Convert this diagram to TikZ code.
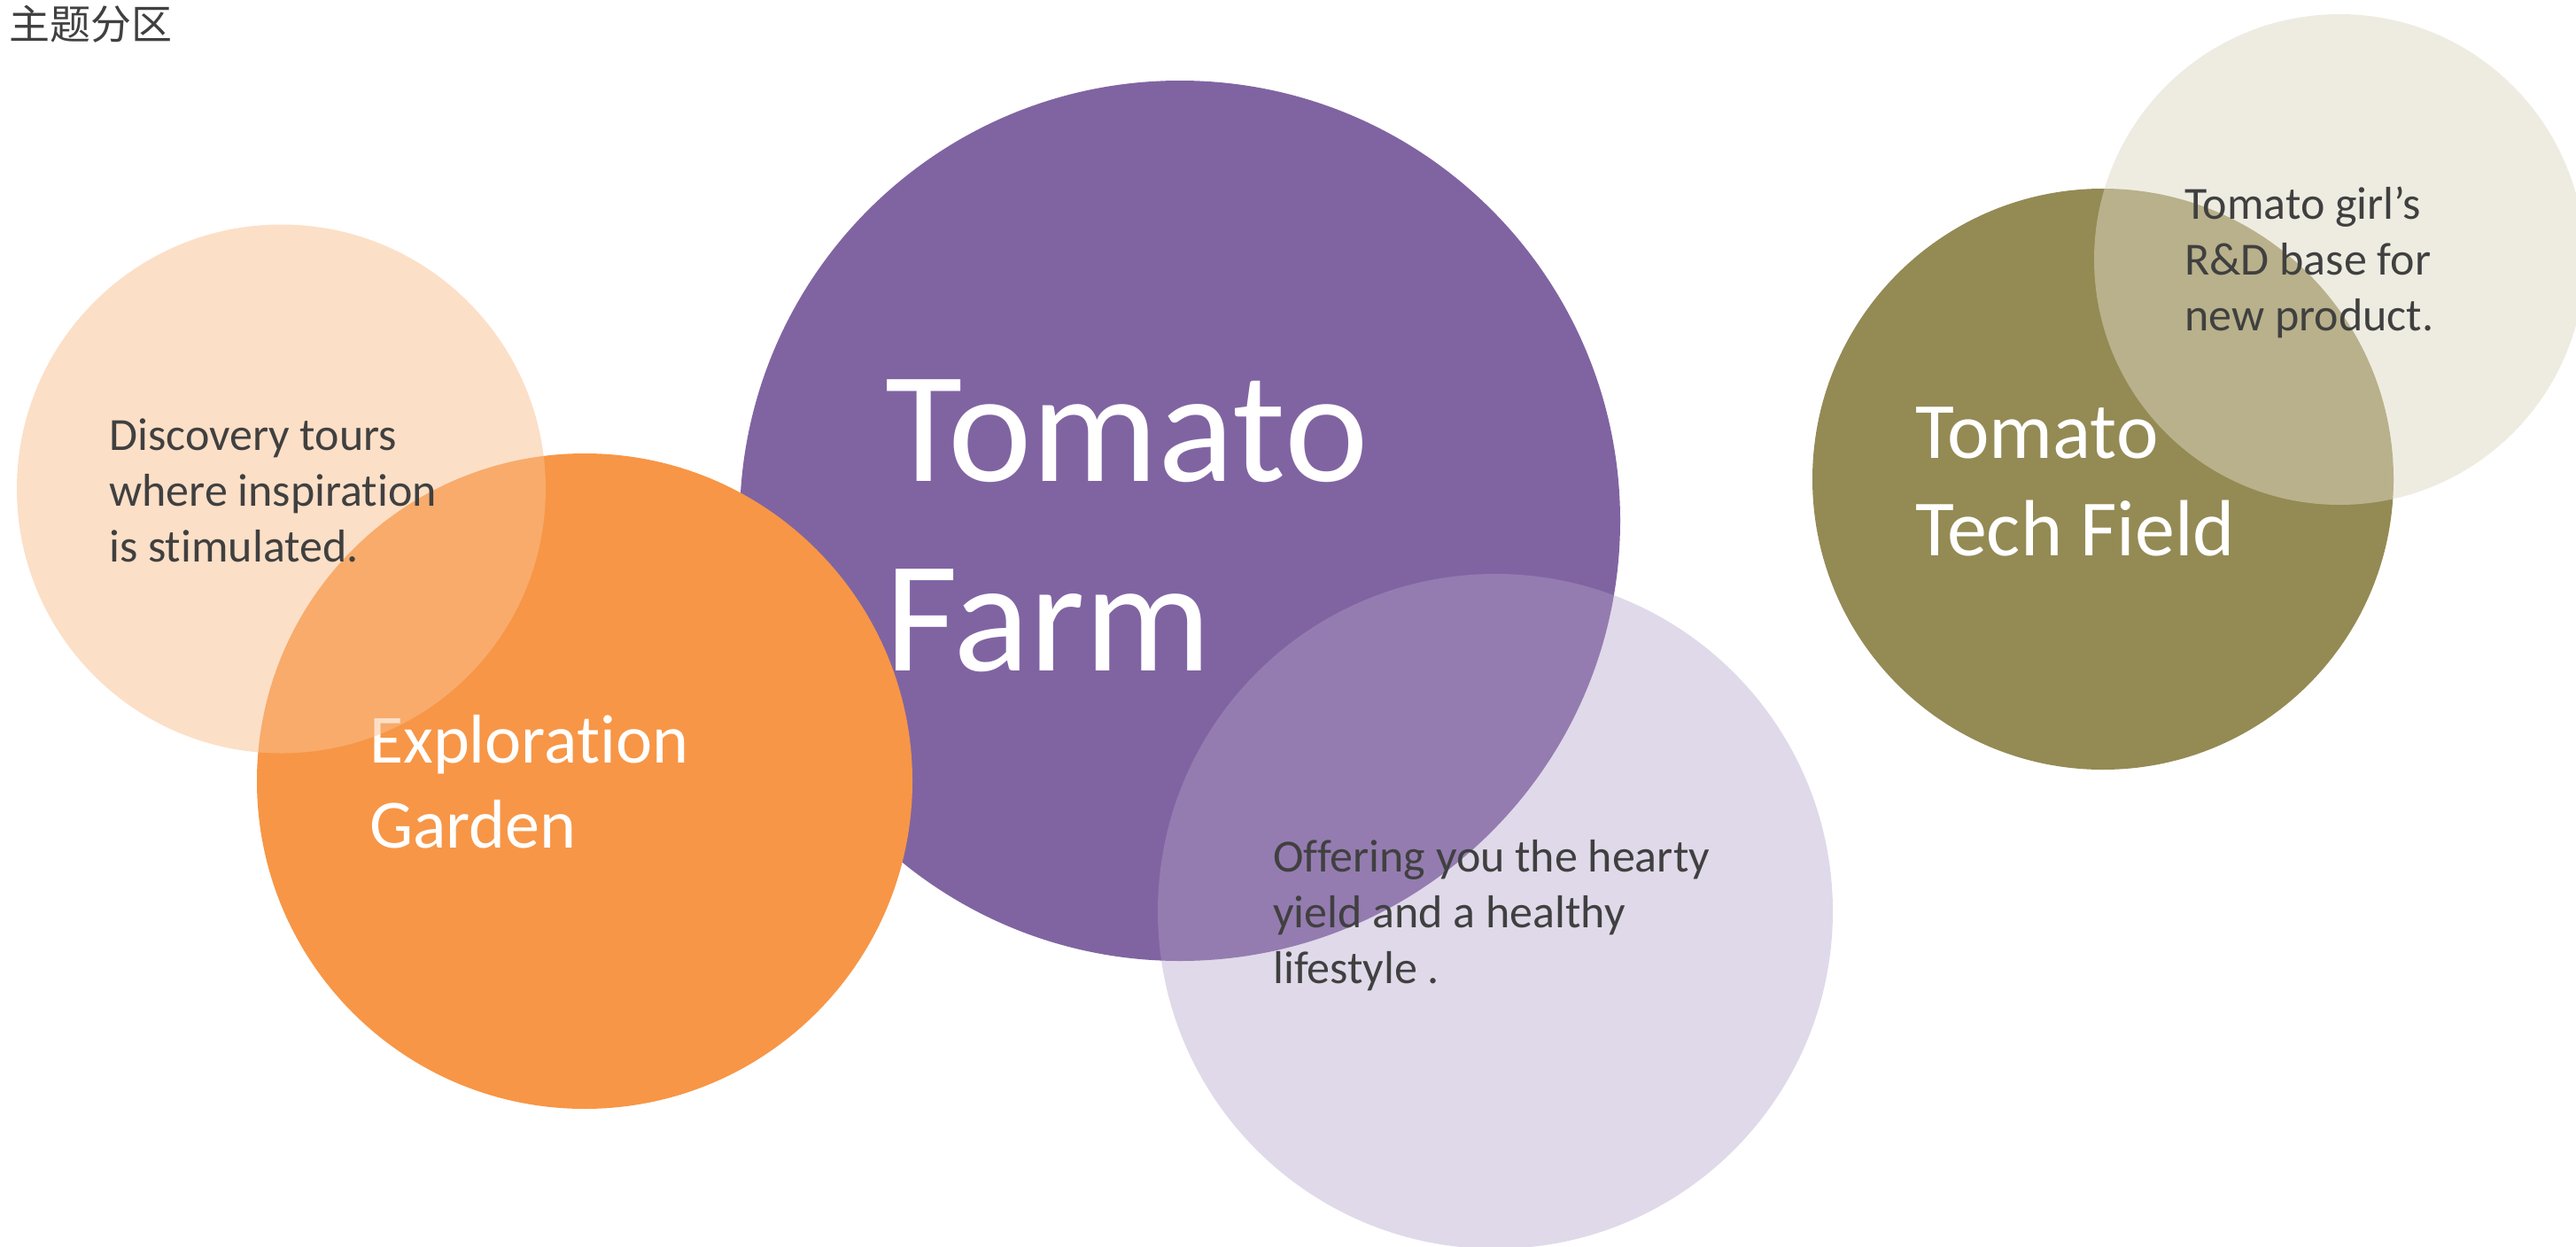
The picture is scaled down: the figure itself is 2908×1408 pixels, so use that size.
\documentclass[tikz,border=0pt]{standalone}
\usepackage{fontspec}
\setmainfont{Carlito}[Ligatures=NoCommon]
\newfontfamily\cjk{Noto Sans CJK SC}
\usepackage{tikz}
\usetikzlibrary{calc}

\definecolor{farmPurple}{HTML}{8064A2}
\definecolor{farmLilac}{HTML}{B2A1C7}
\definecolor{gardenOrange}{HTML}{F79646}
\definecolor{gardenPeach}{HTML}{FAC090}
\definecolor{techOlive}{HTML}{948A54}
\definecolor{techSand}{HTML}{DDD9C3}
\definecolor{textGray}{HTML}{404040}

% labels are placed by the baseline of their last line
\tikzset{
	zoneLabel/.style={anchor=base west, inner sep=0pt, align=left},
	bigTitle/.style={zoneLabel, white, font=\fontsize{179}{214}\selectfont},
	midTitle/.style={zoneLabel, white, font=\fontsize{90}{110}\selectfont},
	smallTitle/.style={zoneLabel, white, font=\fontsize{78}{96}\selectfont},
	noteText/.style={zoneLabel, textGray, font=\fontsize{52}{63}\selectfont}
}

% one round zone: [opacity]{name}{centre}{radius}{fill}
\newcommand{\ZoneDisc}[5][1]{
	\def\lopacity{#1}
	\def\lname{#2}
	\def\lpos{#3}
	\def\lradius{#4}
	\def\lfill{#5}
	\coordinate (\lname) at (\lpos);
	\fill[\lfill, fill opacity=\lopacity] (\lname) circle (\lradius pt);
}

\begin{document}
\begin{tikzpicture}[x=1pt, y={(0pt,-1pt)}]

	\clip (0,0) rectangle (2908,1408);

	\node[zoneLabel, textGray, font=\cjk\fontsize{46}{46}\selectfont] (heading) at (10,44) {主题分区};

	% middle: the farm
	\ZoneDisc{farm}{1332,588}{497}{farmPurple}
	\node[bigTitle] (farmTitle) at (999,757) {Tomato\\Farm};

	% left: the garden, peach disc laid over the orange one
	\ZoneDisc{garden}{660,882}{370}{gardenOrange}
	\node[smallTitle] (gardenTitle) at (417,957) {Exploration\\Garden};
	\ZoneDisc[0.5]{tours}{317.5,552}{298.5}{gardenPeach}
	\node[noteText] (toursNote) at (123,634) {Discovery tours\\where inspiration\\is stimulated.};

	\ZoneDisc[0.4]{yield}{1688,1029}{381}{farmLilac}
	\node[noteText] (yieldNote) at (1437,1110) {Offering you the hearty\\yield and a healthy\\lifestyle .};

	% right: the tech field
	\ZoneDisc{tech}{2374,541}{328}{techOlive}
	\ZoneDisc[0.5]{lab}{2641,293}{277}{techSand}
	\node[midTitle] (techTitle) at (2162,627) {Tomato\\Tech Field};
	\node[noteText] (labNote) at (2466,373) {Tomato girl’s\\R\&D base for\\new product.};

\end{tikzpicture}
\end{document}
